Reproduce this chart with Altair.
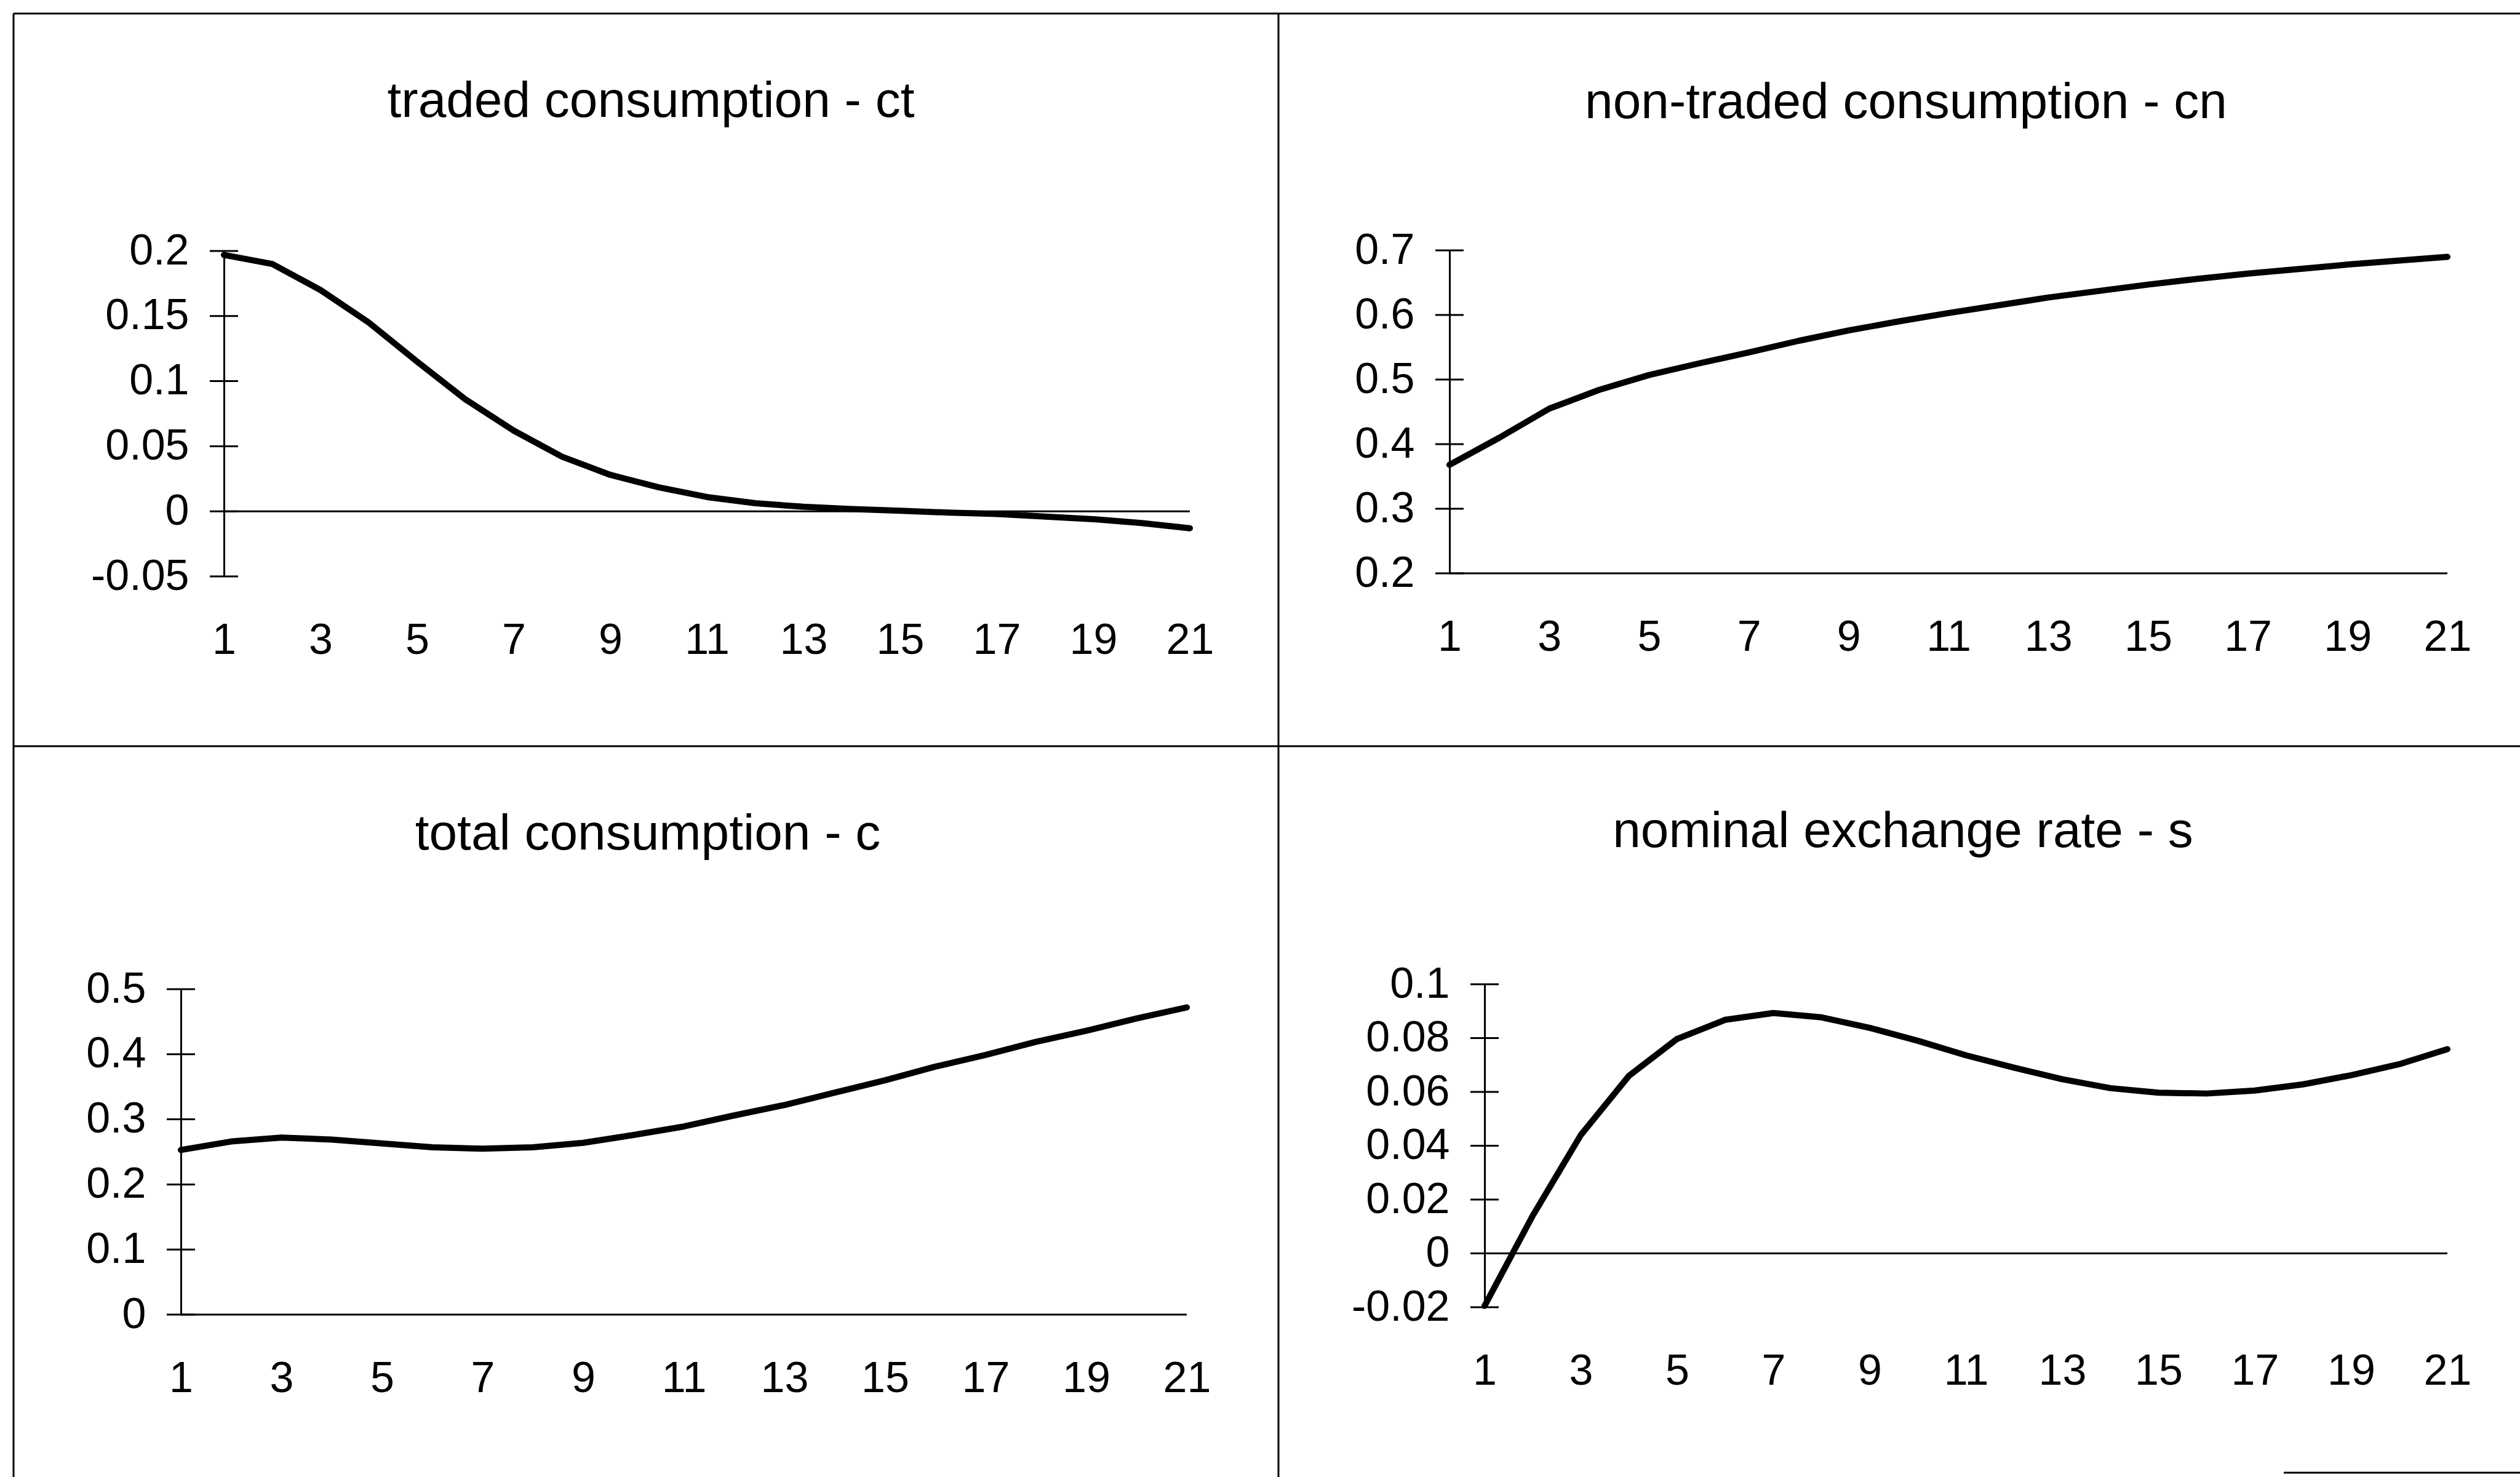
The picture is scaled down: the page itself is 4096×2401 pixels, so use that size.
import altair as alt
import pandas as pd

# ---------------- data ----------------
periods = list(range(1, 22))
ct = [0.197, 0.190, 0.170, 0.145, 0.115, 0.086, 0.062, 0.042, 0.028, 0.0185, 0.011,
      0.0062, 0.0035, 0.0017, 0.0005, -0.001, -0.002, -0.004, -0.006, -0.009, -0.013]
cn = [0.368, 0.410, 0.455, 0.484, 0.507, 0.525, 0.542, 0.560, 0.576, 0.590, 0.603,
      0.615, 0.627, 0.637, 0.647, 0.656, 0.664, 0.671, 0.678, 0.684, 0.690]
c = [0.253, 0.266, 0.272, 0.269, 0.263, 0.257, 0.255, 0.257, 0.264, 0.276, 0.289,
     0.306, 0.322, 0.341, 0.360, 0.381, 0.399, 0.419, 0.436, 0.455, 0.472]
s = [-0.0195, 0.014, 0.044, 0.066, 0.0797, 0.0868, 0.0893, 0.0877, 0.0838, 0.079, 0.0736,
     0.069, 0.0647, 0.0614, 0.0597, 0.0594, 0.0605, 0.0628, 0.0662, 0.0703, 0.0759]

titles = ["traded consumption - ct", "non-traded consumption - cn",
          "total consumption - c", "nominal exchange rate - s"]
ticks_ct = [0.2, 0.15, 0.1, 0.05, 0, -0.05]
ticks_cn = [0.7, 0.6, 0.5, 0.4, 0.3, 0.2]
ticks_c = [0.5, 0.4, 0.3, 0.2, 0.1, 0]
ticks_s = [0.1, 0.08, 0.06, 0.04, 0.02, 0, -0.02]
x_labels = [1, 3, 5, 7, 9, 11, 13, 15, 17, 19, 21]

# ---------------- layout (pixels) ----------------
W, H = 4096, 2401
FONT = "Liberation Sans, Arial, Helvetica, sans-serif"
# (x-range, y-range [bottom, top], axis baseline value, title centre x, title baseline y)
geo = [
    dict(xr=[364, 1934], yr=[937, 408], base=0, tx=1058, ty=190),
    dict(xr=[2356, 3978], yr=[932, 407], base=0.2, tx=3098, ty=192),
    dict(xr=[294, 1929], yr=[2137, 1608], base=0, tx=1053, ty=1381),
    dict(xr=[2413, 3978], yr=[2125, 1600], base=0, tx=3093, ty=1377),
]
series = [ct, cn, c, s]
tick_sets = [ticks_ct, ticks_cn, ticks_c, ticks_s]


def panel(vals, ticks, g, title):
    lo, hi = min(ticks), max(ticks)
    xs = alt.Scale(domain=[1, 21], range=g["xr"], nice=False, zero=False)
    ys = alt.Scale(domain=[lo, hi], range=g["yr"], nice=False, zero=False)
    df = pd.DataFrame({"t": periods, "v": vals})
    xaxis = alt.Axis(orient="bottom", offset=g["yr"][0] - H, values=x_labels,
                     labelExpr="'' + datum.value", domain=False, ticks=False,
                     tickSize=0, grid=False, labelPadding=70, labelFont=FONT,
                     labelFontSize=70, labelColor="black", labelFlush=False,
                     labelOverlap=False, title="")
    yaxis = alt.Axis(orient="left", offset=-g["xr"][0], values=ticks,
                     labelExpr="'' + datum.value", domain=True, domainColor="black",
                     domainWidth=3, ticks=False, tickSize=0, grid=False,
                     labelPadding=57, labelFont=FONT, labelFontSize=70,
                     labelColor="black", labelFlush=False, labelOverlap=False,
                     title="")
    base_df = pd.DataFrame({"x0": [1], "x1": [21], "y": [g["base"]]})
    base = alt.Chart(base_df).mark_rule(color="black", strokeWidth=3).encode(
        x=alt.X("x0:Q", scale=xs, axis=None), x2="x1:Q",
        y=alt.Y("y:Q", scale=ys, axis=None))
    tdf = pd.DataFrame({"x": [1] * len(ticks), "y": ticks})
    tk = alt.Chart(tdf).mark_tick(orient="horizontal", size=46, thickness=3,
                                  color="black", opacity=1).encode(
        x=alt.X("x:Q", scale=xs, axis=None),
        y=alt.Y("y:Q", scale=ys, axis=None))
    line = alt.Chart(df).mark_line(color="black", strokeWidth=10,
                                   strokeJoin="round", strokeCap="round").encode(
        x=alt.X("t:Q", scale=xs, axis=xaxis),
        y=alt.Y("v:Q", scale=ys, axis=yaxis))
    ttl = alt.Chart(pd.DataFrame({"title": [title]})).mark_text(
        font=FONT, fontSize=82, align="center", baseline="alphabetic",
        color="black").encode(text="title:N", x=alt.value(g["tx"]), y=alt.value(g["ty"]))
    return [base, tk, line, ttl]


layers = []
for vals, ticks, g, t in zip(series, tick_sets, geo, titles):
    layers += panel(vals, ticks, g, t)

# frame lines (panel borders)
dummy = pd.DataFrame({"a": [0]})
frame = [
    dict(x=22, x2=W, y=22, y2=22),        # top border
    dict(x=22, x2=22, y=22, y2=H),        # left border
    dict(x=22, x2=W, y=1213, y2=1213),    # horizontal divider
    dict(x=2078, x2=2078, y=22, y2=H),    # vertical divider
    dict(x=3712, x2=W, y=2394, y2=2394),  # bottom fragment
]
for f in frame:
    layers.append(alt.Chart(dummy).mark_rule(color="black", strokeWidth=3).encode(
        x=alt.value(f["x"]), x2=alt.value(f["x2"]),
        y=alt.value(f["y"]), y2=alt.value(f["y2"])))

chart = alt.layer(*layers).resolve_scale(
    x="independent", y="independent"
).properties(
    width=W, height=H, padding=0, background="white",
    autosize=alt.AutoSizeParams(type="none")
).configure_view(strokeWidth=0)

chart.save("out.html", embed_options={"renderer": "svg", "actions": False})
